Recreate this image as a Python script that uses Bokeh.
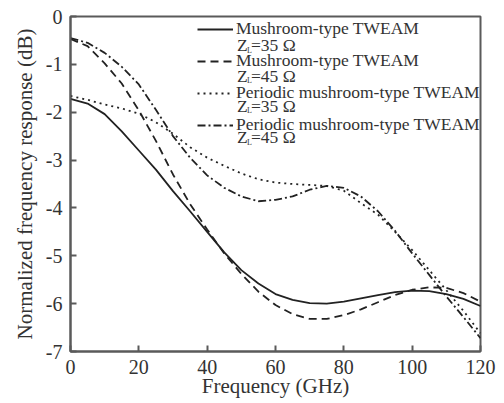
from bokeh.plotting import figure
from bokeh.models import Range1d, FixedTicker, Legend, LegendItem, Label
from bokeh.embed import file_html
from bokeh.resources import INLINE

freq = [0, 5, 10, 15, 20, 25, 30, 35, 40, 45, 50, 55, 60, 65, 70, 75, 80, 85, 90, 95, 100, 105, 110, 115, 120]
mush35 = [-1.72, -1.82, -2.04, -2.40, -2.80, -3.20, -3.65, -4.07, -4.50, -4.93, -5.30, -5.58, -5.80, -5.92, -5.99,
          -6.00, -5.96, -5.89, -5.82, -5.76, -5.73, -5.74, -5.80, -5.90, -6.05]
mush45 = [-0.47, -0.62, -0.98, -1.40, -1.96, -2.60, -3.30, -3.92, -4.45, -4.95, -5.38, -5.75, -6.03, -6.22, -6.32,
          -6.32, -6.24, -6.12, -5.97, -5.82, -5.71, -5.66, -5.67, -5.78, -5.96]
per35 = [-1.66, -1.74, -1.84, -1.92, -2.03, -2.21, -2.45, -2.73, -2.95, -3.12, -3.28, -3.40, -3.47, -3.50, -3.52,
         -3.54, -3.64, -3.90, -4.14, -4.50, -4.88, -5.30, -5.72, -6.15, -6.62]
per45 = [-0.45, -0.55, -0.76, -1.05, -1.42, -1.95, -2.50, -2.95, -3.32, -3.58, -3.76, -3.86, -3.83, -3.76, -3.62,
         -3.54, -3.58, -3.76, -4.07, -4.48, -4.95, -5.40, -5.85, -6.28, -6.72]

x_ticks = [0, 20, 40, 60, 80, 100, 120]
y_ticks = [0, -1, -2, -3, -4, -5, -6, -7]
y_tick_labels = ["0", "-1", "-2", "-3", "-4", "-5", "-6", "-7"]
series_names = ["Mushroom-type TWEAM", "Mushroom-type TWEAM",
                "Periodic mushroom-type TWEAM", "Periodic mushroom-type TWEAM"]
z_values = ["=35 \u03a9", "=45 \u03a9", "=35 \u03a9", "=45 \u03a9"]

FONT = "Liberation Serif"
INK = "#222222"
FRAME = "#5a5a5a"
TXT = "#333333"

p = figure(width=504, height=403, output_backend="svg", toolbar_location=None,
           x_range=Range1d(0, 120), y_range=Range1d(-7, 0),
           min_border_left=70, min_border_right=24, min_border_top=16, min_border_bottom=52)
p.background_fill_color = "white"
p.border_fill_color = "white"
p.outline_line_color = FRAME
p.outline_line_width = 2
p.grid.visible = False

for ax in (p.xaxis[0], p.yaxis[0]):
    ax.axis_line_color = FRAME
    ax.axis_line_width = 2
    ax.major_tick_in = 6
    ax.major_tick_out = 0
    ax.major_tick_line_color = FRAME
    ax.major_tick_line_width = 2
    ax.minor_tick_line_color = None
    ax.major_label_text_font = FONT
    ax.major_label_text_font_size = "20px"
    ax.major_label_text_color = TXT
    ax.axis_label_text_font = FONT
    ax.axis_label_text_font_style = "normal"
    ax.axis_label_text_color = TXT

p.xaxis[0].axis_label_text_font_size = "21px"
p.yaxis[0].axis_label_text_font_size = "21px"
p.xaxis[0].ticker = FixedTicker(ticks=x_ticks)
p.yaxis[0].ticker = FixedTicker(ticks=y_ticks)
p.yaxis[0].major_label_overrides = {t: s for t, s in zip(y_ticks, y_tick_labels)}
p.xaxis[0].axis_label = "Frequency (GHz)"
p.yaxis[0].axis_label = "Normalized frequency response (dB)"
p.xaxis[0].major_label_standoff = 8
p.xaxis[0].axis_label_standoff = -3
p.yaxis[0].major_label_standoff = 8
p.yaxis[0].axis_label_standoff = 6

styles = [("solid", 1.8), ("8 5", 1.8), ("2 4", 1.8), ("8 3 2 3", 1.8)]
data = [mush35, mush45, per35, per45]
renderers = []
for vals, (dash, lw) in zip(data, styles):
    r = p.line(freq, vals, line_color=INK, line_width=lw, line_dash=dash)
    renderers.append(r)

items = [LegendItem(label=name, renderers=[r]) for name, r in zip(series_names, renderers)]
legend = Legend(items=items, location=(127, 216), orientation="vertical",
                glyph_width=36, glyph_height=20, label_height=20, label_standoff=3,
                spacing=11, padding=0, margin=0,
                label_text_font=FONT, label_text_font_size="17.5px", label_text_color=TXT,
                border_line_color=None, background_fill_alpha=0)
p.add_layout(legend, "center")

# second legend line: Z_L = ... with subscript
z_x = 48.7
z_y = [-0.60, -1.24, -1.87, -2.52]
for zy, zv in zip(z_y, z_values):
    p.add_layout(Label(x=z_x, y=zy, text="Z", text_font=FONT, text_font_size="17.5px",
                       text_color=TXT, text_baseline="middle"))
    p.add_layout(Label(x=z_x, y=zy, x_offset=10, y_offset=-5, text="L", text_font=FONT,
                       text_font_size="8px", text_color=TXT, text_baseline="middle"))
    p.add_layout(Label(x=z_x, y=zy, x_offset=14, text=zv, text_font=FONT, text_font_size="17.5px",
                       text_color=TXT, text_baseline="middle"))

open("out.html", "w").write(file_html(p, INLINE))
